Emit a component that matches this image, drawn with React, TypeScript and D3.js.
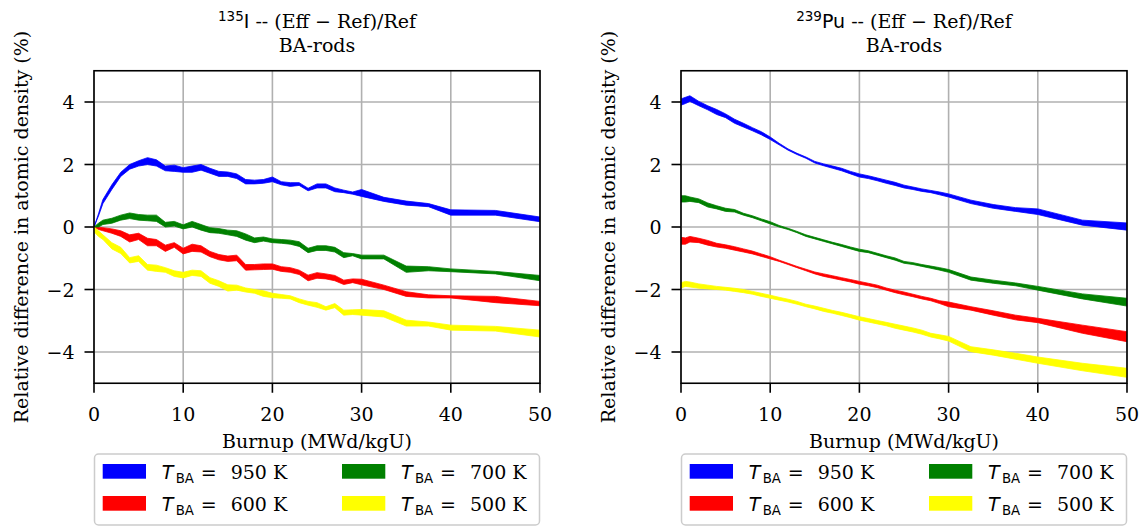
import React from "react";
import * as d3 from "d3";

// Burnup steps (MWd/kgU)
const BURNUP = [0, 0.5, 1, 2, 3, 4, 5, 6, 7, 8, 9, 10, 11, 12, 13, 14, 15, 16, 17, 18, 19, 20, 21, 22, 23, 24, 25, 26, 27, 28, 29, 30, 32.5, 35, 37.5, 40, 45, 50];

// I-135: lower / upper envelope of the relative difference (%)
const I135_950_LO = [0, 0.35, 0.75, 1.2, 1.62, 1.85, 1.95, 2.0, 1.95, 1.8, 1.78, 1.75, 1.75, 1.82, 1.72, 1.62, 1.62, 1.55, 1.38, 1.38, 1.4, 1.45, 1.35, 1.3, 1.33, 1.16, 1.25, 1.25, 1.13, 1.1, 1.05, 0.98, 0.82, 0.7, 0.65, 0.38, 0.38, 0.17];
const I135_950_HI = [0, 0.42, 0.88, 1.35, 1.75, 2.0, 2.12, 2.22, 2.15, 1.95, 1.98, 1.9, 1.95, 2.0, 1.88, 1.78, 1.76, 1.7, 1.52, 1.5, 1.52, 1.6, 1.45, 1.42, 1.42, 1.24, 1.38, 1.38, 1.25, 1.18, 1.12, 1.2, 0.95, 0.83, 0.75, 0.55, 0.53, 0.32];
const I135_600_LO = [0, -0.08, -0.12, -0.2, -0.3, -0.48, -0.4, -0.6, -0.6, -0.78, -0.65, -0.86, -0.78, -0.8, -0.95, -1.05, -1.1, -1.08, -1.38, -1.37, -1.36, -1.35, -1.42, -1.45, -1.52, -1.72, -1.64, -1.66, -1.72, -1.84, -1.78, -1.85, -2.0, -2.22, -2.27, -2.27, -2.42, -2.52];
const I135_600_HI = [0, 0, -0.02, -0.06, -0.12, -0.25, -0.2, -0.36, -0.4, -0.58, -0.5, -0.68, -0.55, -0.6, -0.78, -0.88, -0.93, -0.9, -1.2, -1.2, -1.18, -1.18, -1.27, -1.3, -1.38, -1.54, -1.46, -1.5, -1.55, -1.7, -1.66, -1.67, -1.86, -2.07, -2.17, -2.2, -2.22, -2.38];
const I135_700_LO = [0, 0.0, 0.08, 0.12, 0.22, 0.27, 0.22, 0.2, 0.18, 0.0, 0.03, -0.06, 0.0, -0.1, -0.18, -0.2, -0.25, -0.3, -0.42, -0.5, -0.45, -0.5, -0.52, -0.55, -0.62, -0.82, -0.75, -0.75, -0.8, -0.98, -0.92, -1.02, -1.02, -1.45, -1.4, -1.43, -1.5, -1.72];
const I135_700_HI = [0, 0.12, 0.22, 0.28, 0.38, 0.45, 0.4, 0.38, 0.38, 0.15, 0.18, 0.07, 0.18, 0.08, -0.02, -0.05, -0.1, -0.12, -0.22, -0.35, -0.32, -0.38, -0.4, -0.42, -0.47, -0.68, -0.6, -0.6, -0.65, -0.82, -0.85, -0.9, -0.9, -1.25, -1.27, -1.34, -1.42, -1.55];
const I135_500_LO = [-0.15, -0.3, -0.4, -0.7, -0.85, -1.15, -1.1, -1.38, -1.42, -1.45, -1.58, -1.63, -1.55, -1.58, -1.8, -1.9, -2.05, -2.02, -2.08, -2.12, -2.22, -2.26, -2.28, -2.3, -2.42, -2.5, -2.57, -2.66, -2.58, -2.82, -2.8, -2.82, -2.88, -3.17, -3.17, -3.3, -3.33, -3.52];
const I135_500_HI = [0, -0.12, -0.25, -0.5, -0.65, -0.98, -0.92, -1.2, -1.22, -1.3, -1.4, -1.45, -1.38, -1.4, -1.62, -1.72, -1.85, -1.86, -1.95, -2.0, -2.04, -2.12, -2.16, -2.2, -2.3, -2.38, -2.42, -2.55, -2.45, -2.66, -2.65, -2.64, -2.68, -2.98, -3.04, -3.14, -3.18, -3.3];

// Pu-239: lower / upper envelope of the relative difference (%)
const PU239_950_LO = [3.9, 3.95, 4.02, 3.88, 3.75, 3.6, 3.5, 3.32, 3.2, 3.08, 2.95, 2.8, 2.63, 2.46, 2.32, 2.2, 2.05, 1.96, 1.88, 1.8, 1.7, 1.6, 1.55, 1.48, 1.4, 1.33, 1.25, 1.2, 1.14, 1.1, 1.03, 0.96, 0.75, 0.6, 0.5, 0.4, 0.06, -0.1];
const PU239_950_HI = [4.1, 4.15, 4.2, 4.02, 3.88, 3.76, 3.62, 3.45, 3.32, 3.18, 3.05, 2.88, 2.68, 2.5, 2.36, 2.24, 2.1, 2.02, 1.95, 1.88, 1.78, 1.7, 1.64, 1.57, 1.5, 1.43, 1.34, 1.28, 1.22, 1.17, 1.12, 1.06, 0.86, 0.72, 0.62, 0.58, 0.22, 0.13];
const PU239_600_LO = [-0.55, -0.55, -0.48, -0.5, -0.58, -0.64, -0.68, -0.74, -0.8, -0.86, -0.94, -1.02, -1.1, -1.2, -1.3, -1.4, -1.5, -1.58, -1.64, -1.7, -1.76, -1.83, -1.88, -1.94, -2.02, -2.1, -2.17, -2.23, -2.3, -2.36, -2.45, -2.55, -2.66, -2.82, -2.97, -3.06, -3.4, -3.67];
const PU239_600_HI = [-0.33, -0.35, -0.3, -0.36, -0.43, -0.52, -0.57, -0.63, -0.7, -0.77, -0.86, -0.95, -1.06, -1.16, -1.26, -1.35, -1.44, -1.5, -1.56, -1.62, -1.68, -1.74, -1.8, -1.86, -1.95, -2.02, -2.08, -2.15, -2.22, -2.28, -2.36, -2.4, -2.55, -2.68, -2.82, -2.92, -3.14, -3.35];
const PU239_700_LO = [0.8, 0.8, 0.82, 0.78, 0.64, 0.58, 0.5, 0.48, 0.38, 0.3, 0.2, 0.1, 0.0, -0.08, -0.18, -0.3, -0.38, -0.46, -0.54, -0.62, -0.7, -0.78, -0.82, -0.9, -0.98, -1.06, -1.16, -1.2, -1.26, -1.32, -1.38, -1.45, -1.7, -1.8, -1.88, -2.02, -2.3, -2.53];
const PU239_700_HI = [1.0, 1.0, 0.96, 0.9, 0.77, 0.68, 0.6, 0.56, 0.44, 0.36, 0.26, 0.17, 0.05, -0.04, -0.14, -0.25, -0.33, -0.41, -0.49, -0.56, -0.64, -0.71, -0.76, -0.84, -0.92, -0.99, -1.1, -1.14, -1.2, -1.25, -1.3, -1.36, -1.6, -1.7, -1.79, -1.9, -2.14, -2.28];
const PU239_500_LO = [-1.95, -1.9, -1.92, -1.96, -1.98, -2.0, -2.02, -2.06, -2.1, -2.15, -2.22, -2.28, -2.34, -2.4, -2.47, -2.55, -2.62, -2.7, -2.76, -2.83, -2.9, -2.98, -3.04, -3.1, -3.16, -3.24, -3.3, -3.36, -3.43, -3.52, -3.58, -3.65, -3.99, -4.1, -4.23, -4.36, -4.6, -4.81];
const PU239_500_HI = [-1.78, -1.74, -1.76, -1.82, -1.86, -1.9, -1.93, -1.96, -2.0, -2.06, -2.12, -2.18, -2.25, -2.31, -2.38, -2.47, -2.53, -2.6, -2.67, -2.73, -2.8, -2.87, -2.93, -2.99, -3.05, -3.11, -3.17, -3.23, -3.3, -3.4, -3.45, -3.5, -3.83, -3.93, -4.04, -4.16, -4.36, -4.52];

const TEMPS = ["950", "600", "700", "500"];
const COLORS = ["#0000ff", "#ff0000", "#008000", "#ffff00"];
const X_TICKS = [0, 10, 20, 30, 40, 50];
const Y_TICKS = [-4, -2, 0, 2, 4];

const PANELS = [
  {
    nuclide: "135",
    element: "I",
    bands: [
      [I135_950_LO, I135_950_HI],
      [I135_600_LO, I135_600_HI],
      [I135_700_LO, I135_700_HI],
      [I135_500_LO, I135_500_HI],
    ],
  },
  {
    nuclide: "239",
    element: "Pu",
    bands: [
      [PU239_950_LO, PU239_950_HI],
      [PU239_600_LO, PU239_600_HI],
      [PU239_700_LO, PU239_700_HI],
      [PU239_500_LO, PU239_500_HI],
    ],
  },
];

const SERIF = "'DejaVu Serif', serif";
const SANS = "'DejaVu Sans', sans-serif";
const FS = 19;

const W = 1146;
const H = 527;
const PLOT_W = 446;
const PLOT_TOP = 70.75;
const PLOT_H = 312.5;
const PANEL_X = [94, 681];

function Panel({ ox, panel, idx }: { ox: number; panel: any; idx: number }) {
  const x = d3.scaleLinear().domain([0, 50]).range([0, PLOT_W]);
  const y = d3.scaleLinear().domain([-5, 5]).range([PLOT_H, 0]);

  const clipId = `clip-${idx}`;
  const cx = PLOT_W / 2;

  return (
    <g transform={`translate(${ox},${PLOT_TOP})`}>
      <defs>
        <clipPath id={clipId}>
          <rect x={0} y={0} width={PLOT_W} height={PLOT_H} />
        </clipPath>
      </defs>

      {/* grid */}
      {X_TICKS.map((t) => (
        <line key={`gx${t}`} x1={x(t)} x2={x(t)} y1={0} y2={PLOT_H} stroke="#b0b0b0" strokeWidth={1.6} />
      ))}
      {Y_TICKS.map((t) => (
        <line key={`gy${t}`} x1={0} x2={PLOT_W} y1={y(t)} y2={y(t)} stroke="#b0b0b0" strokeWidth={1.6} />
      ))}

      {/* uncertainty bands, one per BA temperature */}
      <g clipPath={`url(#${clipId})`}>
        {panel.bands.map((b: number[][], k: number) => {
          const [lo, hi] = b;
          const gen = d3
            .area<number>()
            .x((_, i) => x(BURNUP[i]))
            .y0((_, i) => y(lo[i]))
            .y1((_, i) => y(hi[i]));
          return (
            <path
              key={k}
              d={gen(BURNUP) || ""}
              fill={COLORS[k]}
              stroke={COLORS[k]}
              strokeWidth={0.8}
              strokeLinejoin="round"
            />
          );
        })}
      </g>

      {/* frame */}
      <rect x={0} y={0} width={PLOT_W} height={PLOT_H} fill="none" stroke="#000" strokeWidth={1.6} />

      {/* x ticks */}
      {X_TICKS.map((t) => (
        <g key={`xt${t}`}>
          <line x1={x(t)} x2={x(t)} y1={PLOT_H} y2={PLOT_H + 9.5} stroke="#000" strokeWidth={1.6} />
          <text x={x(t)} y={PLOT_H + 37.5} textAnchor="middle" fontFamily={SERIF} fontSize={FS}>
            {String(t)}
          </text>
        </g>
      ))}

      {/* y ticks */}
      {Y_TICKS.map((t) => (
        <g key={`yt${t}`}>
          <line x1={-9.5} x2={0} y1={y(t)} y2={y(t)} stroke="#000" strokeWidth={1.6} />
          <text x={-19.5} y={y(t) + 7} textAnchor="end" fontFamily={SERIF} fontSize={FS}>
            {t < 0 ? `\u2212${Math.abs(t)}` : String(t)}
          </text>
        </g>
      ))}

      {/* axis labels */}
      <text x={cx} y={377} textAnchor="middle" fontFamily={SERIF} fontSize={FS}>
        Burnup (MWd/kgU)
      </text>
      <text
        transform={`translate(${-66},${PLOT_H / 2}) rotate(-90)`}
        textAnchor="middle"
        fontFamily={SERIF}
        fontSize={FS}
      >
        Relative difference in atomic density (%)
      </text>

      {/* two-line title */}
      <text x={cx} y={27.5 - PLOT_TOP} textAnchor="middle" fontFamily={SERIF} fontSize={FS}>
        <tspan fontFamily={SANS} fontSize={13.5} dy={-6.5}>{panel.nuclide}</tspan>
        <tspan fontFamily={SANS} dy={6.5}>{panel.element}</tspan>
        <tspan>{" -- (Eff "}</tspan>
        <tspan fontFamily={SANS}>{"\u2212"}</tspan>
        <tspan>{" Ref)/Ref"}</tspan>
      </text>
      <text x={cx} y={52 - PLOT_TOP} textAnchor="middle" fontFamily={SERIF} fontSize={FS}>
        BA-rods
      </text>

      {/* legend */}
      <g transform={`translate(0,${454 - PLOT_TOP})`}>
        <rect x={0.5} y={0} width={PLOT_W - 1} height={71} rx={4} fill="#fff" fillOpacity={0.8} stroke="#cccccc" strokeWidth={1.5} />
        {TEMPS.map((temp, k) => {
          const col = Math.floor(k / 2);
          const row = k % 2;
          const px = col === 0 ? 8.7 : 248;
          const tx = px + 59;
          const ry = 10 + row * 32;
          const base = ry + 14.5;
          return (
            <g key={temp}>
              <rect x={px} y={ry} width={43.3} height={14.7} fill={COLORS[k]} />
              <text x={tx} y={base} fontFamily={SANS} fontSize={FS} fontStyle="italic">T</text>
              <text x={tx + 14} y={base + 4} fontFamily={SANS} fontSize={13.3}>BA</text>
              <text x={tx + 39} y={base} fontFamily={SANS} fontSize={FS}>=</text>
              <text x={tx + 69} y={base} fontFamily={SERIF} fontSize={FS}>{`${temp} K`}</text>
            </g>
          );
        })}
      </g>
    </g>
  );
}

export default function App() {
  return (
    <svg
      width={W}
      height={H}
      viewBox={`0 0 ${W} ${H}`}
      style={{ position: "absolute", left: 0, top: 0, background: "#fff" }}
    >
      <rect x={0} y={0} width={W} height={H} fill="#fff" />
      {PANELS.map((p, i) => (
        <Panel key={i} ox={PANEL_X[i]} panel={p} idx={i} />
      ))}
    </svg>
  );
}
